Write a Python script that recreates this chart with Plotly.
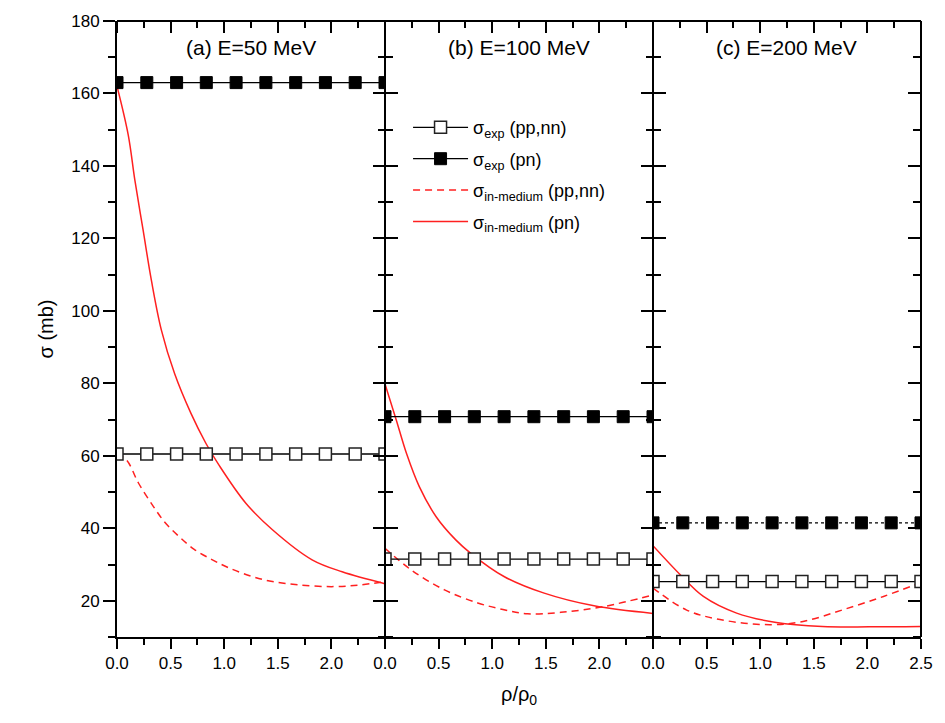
import plotly.graph_objects as go

# ---------------- data ----------------
rho_exp = [0.0, 0.278, 0.556, 0.833, 1.111, 1.389, 1.667, 1.944, 2.222, 2.5]

exp_pp_a = [60.5] * 10
exp_pn_a = [163.0] * 10
exp_pp_b = [31.5] * 10
exp_pn_b = [70.8] * 10
exp_pp_c = [25.3] * 10
exp_pn_c = [41.5] * 10

rho_a_pn = [0, 0.105, 0.167, 0.244, 0.321, 0.414, 0.537, 0.69, 0.83, 0.95, 1.2, 1.45, 1.82, 2.1, 2.5]
med_pn_a = [162, 148.5, 136, 122.2, 108.4, 94.7, 82.7, 71.7, 63.4, 57.5, 47, 39.6, 31.3, 28.0, 24.7]
rho_a_pp = [0, 0.09, 0.2, 0.34, 0.45, 0.58, 0.72, 0.89, 1.05, 1.26, 1.45, 1.69, 2.0, 2.25, 2.5]
med_pp_a = [60.5, 58.8, 52.5, 46, 41.5, 37.7, 34.2, 31.3, 29, 26.7, 25.3, 24.4, 23.9, 24.3, 25.3]

rho_b_pn = [0, 0.105, 0.2, 0.32, 0.477, 0.66, 0.8, 1.11, 1.485, 1.95, 2.5]
med_pn_b = [79.8, 69.9, 60.7, 51.5, 43.2, 36.8, 33.1, 26.7, 22.1, 18.6, 16.5]
rho_b_pp = [0, 0.245, 0.555, 0.865, 1.1, 1.33, 1.64, 2.04, 2.5]
med_pp_b = [34.5, 28.5, 23, 19.4, 17.6, 16.4, 16.8, 18.4, 21.6]

rho_c_pn = [0, 0.254, 0.47, 0.78, 1.15, 1.58, 2.02, 2.5]
med_pn_c = [35.2, 27.2, 21.2, 16.6, 14, 12.9, 12.8, 12.9]
rho_c_pp = [0, 0.31, 0.625, 1.09, 1.4, 1.77, 2.15, 2.5]
med_pp_c = [23.5, 17.5, 14.8, 13.4, 14.3, 17.5, 21.2, 25.0]

panel_titles = ["(a) E=50 MeV", "(b) E=100 MeV", "(c) E=200 MeV"]
xtick_ab = [0.0, 0.5, 1.0, 1.5, 2.0]
xtick_c = [0.0, 0.5, 1.0, 1.5, 2.0, 2.5]
xminor = [0.25, 0.75, 1.25, 1.75, 2.25]
ytick_vals = [20, 40, 60, 80, 100, 120, 140, 160, 180]

names = ["σ<sub>exp</sub> (pp,nn)", "σ<sub>exp</sub> (pn)",
         "σ<sub>in-medium</sub> (pp,nn)", "σ<sub>in-medium</sub> (pn)"]

panels = [
    (exp_pp_a, exp_pn_a, rho_a_pp, med_pp_a, rho_a_pn, med_pn_a, "solid"),
    (exp_pp_b, exp_pn_b, rho_b_pp, med_pp_b, rho_b_pn, med_pn_b, "solid"),
    (exp_pp_c, exp_pn_c, rho_c_pp, med_pp_c, rho_c_pn, med_pn_c, "dot"),
]

FONT = "Liberation Sans, Arial, sans-serif"
RED = "#ff2020"

fig = go.Figure()
for i, (epp, epn, xpp, mpp, xpn, mpn, pndash) in enumerate(panels):
    xa = "x" if i == 0 else f"x{i+1}"
    ya = "y" if i == 0 else f"y{i+1}"
    fig.add_trace(go.Scatter(
        x=xpp, y=mpp, mode="lines", xaxis=xa, yaxis=ya, name=names[2],
        line=dict(color=RED, width=1.5, dash="7px,5px", shape="spline"),
        showlegend=False))
    fig.add_trace(go.Scatter(
        x=xpn, y=mpn, mode="lines", xaxis=xa, yaxis=ya, name=names[3],
        line=dict(color=RED, width=1.5, shape="spline"),
        showlegend=False))
    fig.add_trace(go.Scatter(
        x=rho_exp, y=epp, mode="lines+markers", xaxis=xa, yaxis=ya, name=names[0],
        line=dict(color="black", width=1.3),
        marker=dict(symbol="square", size=12, color="white",
                    line=dict(color="#222", width=1.5)),
        showlegend=False))
    fig.add_trace(go.Scatter(
        x=rho_exp, y=epn, mode="lines+markers", xaxis=xa, yaxis=ya, name=names[1],
        line=dict(color="black", width=1.3, dash=pndash),
        marker=dict(symbol="square", size=12, color="black",
                    line=dict(color="black", width=1)),
        showlegend=False))

# legend-only traces (drawn in order)
leg_specs = [
    dict(mode="lines+markers", line=dict(color="black", width=1.3),
         marker=dict(symbol="square", size=12, color="white", line=dict(color="#222", width=1.5))),
    dict(mode="lines+markers", line=dict(color="black", width=1.3),
         marker=dict(symbol="square", size=12, color="black", line=dict(color="black", width=1))),
    dict(mode="lines", line=dict(color=RED, width=1.5, dash="7px,5px")),
    dict(mode="lines", line=dict(color=RED, width=1.5)),
]
for n, (nm, spec) in enumerate(zip(names, leg_specs)):
    fig.add_trace(go.Scatter(x=[None], y=[None], name=nm, xaxis="x", yaxis="y",
                             legendgroup=f"g{n}", **spec))

d = 1.0 / 3.0
domains = [[0, d], [d, 2 * d], [2 * d, 1.0]]
tickfont = dict(family=FONT, size=17, color="black")
AX = dict(tickcolor="black", tickwidth=2, showgrid=False, zeroline=False)
YMINOR = dict(ticks="outside", ticklen=7, tickwidth=2, tickcolor="black", dtick=10, tick0=0)
layout = dict(
    width=945, height=723,
    margin=dict(l=117, r=20, t=20, b=86),
    paper_bgcolor="white", plot_bgcolor="white",
    font=dict(family=FONT, size=16, color="black"),
    showlegend=True,
    legend=dict(x=0.362, y=0.857, xanchor="left", yanchor="top",
                bgcolor="rgba(0,0,0,0)", font=dict(family=FONT, size=18),
                itemwidth=55, tracegroupgap=5, traceorder="grouped"),
)
for i in range(3):
    k = "" if i == 0 else str(i + 1)
    ya = "y" if i == 0 else f"y{i+1}"
    xa = "x" if i == 0 else f"x{i+1}"
    tv = xtick_c if i == 2 else xtick_ab
    # bottom axis
    layout[f"xaxis{k}"] = dict(
        domain=domains[i], range=[0, 2.5], anchor=ya,
        showline=True, linecolor="black", linewidth=2,
        ticks="outside", ticklen=10,
        tickvals=tv, ticktext=[f"{v:.1f}" for v in tv], tickfont=tickfont,
        minor=dict(ticks="outside", ticklen=6, tickwidth=2, tickcolor="black",
                   tickvals=xminor),
        fixedrange=True, **AX,
    )
    # top axis: a bottom-sided axis placed at the top -> ticks point down into the panel
    layout[f"xaxis{i+4}"] = dict(
        range=[0, 2.5], overlaying=xa, anchor="free", position=1.0, side="bottom",
        showline=True, linecolor="black", linewidth=2,
        ticks="outside", ticklen=11,
        tickvals=xtick_c, showticklabels=False,
        minor=dict(ticks="outside", ticklen=6, tickwidth=2, tickcolor="black",
                   tickvals=xminor),
        **AX,
    )

# left axis of panel a (labels, outward ticks)
layout["yaxis"] = dict(
    domain=[0, 1], range=[10, 180], anchor="x",
    showline=True, linecolor="black", linewidth=2,
    ticks="outside", ticklen=12,
    tickvals=ytick_vals, tickfont=tickfont, minor=YMINOR,
    title=dict(text="σ (mb)", font=dict(family=FONT, size=20), standoff=12),
    **AX,
)
# panel b / c main y axes: drawn at their left edge, ticks pointing right (into panel)
layout["yaxis2"] = dict(
    domain=[0, 1], range=[10, 180], anchor="free", position=d, side="right",
    showline=True, linecolor="black", linewidth=2,
    ticks="outside", ticklen=12, tickvals=ytick_vals, showticklabels=False,
    minor=YMINOR, **AX,
)
layout["yaxis3"] = dict(
    domain=[0, 1], range=[10, 180], anchor="free", position=2 * d, side="right",
    showline=True, linecolor="black", linewidth=2,
    ticks="outside", ticklen=12, tickvals=ytick_vals, showticklabels=False,
    minor=YMINOR, **AX,
)
# right edges of each panel: left-sided axes placed at the right edge -> ticks point left
for j, (ov, pos, line) in enumerate([("y", d, False), ("y2", 2 * d, False), ("y3", 1.0, True)]):
    layout[f"yaxis{j+4}"] = dict(
        range=[10, 180], overlaying=ov, anchor="free", position=pos, side="left",
        showline=line, linecolor="black", linewidth=2,
        ticks="outside", ticklen=12, tickvals=ytick_vals, showticklabels=False,
        minor=YMINOR, **AX,
    )
fig.update_layout(**layout)

# invisible traces so overlay axes render
for i in range(3):
    ya = "y" if i == 0 else f"y{i+1}"
    xa = "x" if i == 0 else f"x{i+1}"
    fig.add_trace(go.Scatter(x=[0, 2.5], y=[None, None], xaxis=f"x{i+4}", yaxis=ya,
                             mode="lines", showlegend=False, hoverinfo="skip"))
    fig.add_trace(go.Scatter(x=[None, None], y=[10, 180], xaxis=xa, yaxis=f"y{i+4}",
                             mode="lines", showlegend=False, hoverinfo="skip"))

# panel titles
centers = [0.5 * d, 1.5 * d, 2.5 * d]
for t, cx in zip(panel_titles, centers):
    fig.add_annotation(text=t, x=cx, y=0.957, xref="paper", yref="paper",
                       showarrow=False, font=dict(family=FONT, size=21, color="black"),
                       xanchor="center", yanchor="middle")

fig.add_annotation(text="ρ/ρ<sub>0</sub>", x=0.5, y=-0.095, xref="paper", yref="paper",
                   showarrow=False, font=dict(family=FONT, size=20, color="black"),
                   xanchor="center", yanchor="middle")

fig.write_html("out.html")
